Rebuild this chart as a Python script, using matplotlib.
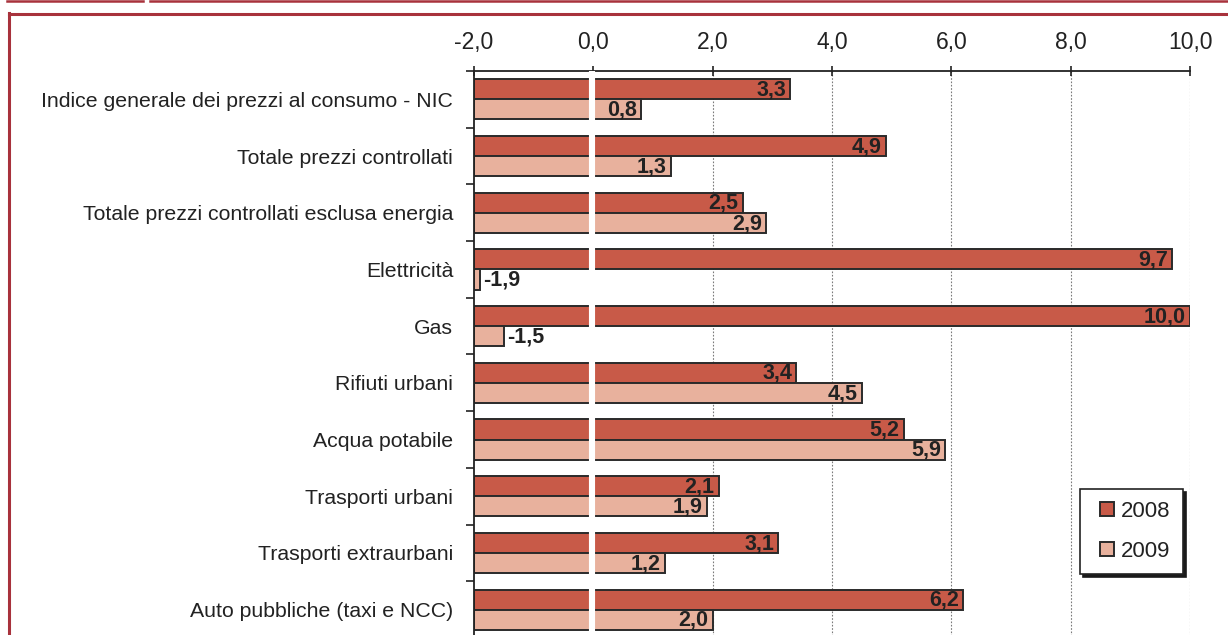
import matplotlib.pyplot as plt
from matplotlib.lines import Line2D
import numpy as np

plt.rcParams['font.family'] = ['Liberation Sans', 'DejaVu Sans']

# dati
categorie = [
    "Indice generale dei prezzi al consumo - NIC",
    "Totale prezzi controllati",
    "Totale prezzi controllati esclusa energia",
    "Elettricità",
    "Gas",
    "Rifiuti urbani",
    "Acqua potabile",
    "Trasporti urbani",
    "Trasporti extraurbani",
    "Auto pubbliche (taxi e NCC)",
]
val_2008 = [3.3, 4.9, 2.5, 9.7, 10.0, 3.4, 5.2, 2.1, 3.1, 6.2]
val_2009 = [0.8, 1.3, 2.9, -1.9, -1.5, 4.5, 5.9, 1.9, 1.2, 2.0]
tick_x = [-2.0, 0.0, 2.0, 4.0, 6.0, 8.0, 10.0]
anni = ['2008', '2009']

col_2008 = '#c85a48'
col_2009 = '#e8b19d'
testo = '#222222'
rosso = '#a8323c'

fig = plt.figure(figsize=(12.28, 6.35), dpi=100)
ax = fig.add_axes([474 / 1228, -3 / 635, (1190 - 474) / 1228, (638 - 71) / 635])

y = np.arange(len(categorie))
h = 0.355
base = -2.0
w08 = np.array(val_2008) - base
w09 = np.array(val_2009) - base
ax.barh(y - h / 2, w08, height=h, left=base, color=col_2008,
        edgecolor='#2a2a2a', linewidth=1.4, zorder=2)
ax.barh(y + h / 2, w09, height=h, left=base, color=col_2009,
        edgecolor='#2a2a2a', linewidth=1.4, zorder=2)

# interruzione bianca sullo zero
ax.axvline(-0.03, ymin=0, ymax=0.995, color='white', linewidth=4.4, zorder=3)

ax.set_xlim(-2, 10)
ax.set_ylim(len(categorie) - 0.5, -0.5)

# etichette valori
def fmt(v):
    return ('%.1f' % v).replace('.', ',')

for serie, off in ((val_2008, -h / 2), (val_2009, h / 2)):
    for i, v in enumerate(serie):
        if v >= 0:
            ax.annotate(fmt(v), (v, i + off), xytext=(-3, -0.5), textcoords='offset points',
                        ha='right', va='center', fontsize=15.5, fontweight='bold',
                        color=testo, zorder=4)
        else:
            ax.annotate(fmt(v), (v, i + off), xytext=(2.5, -0.5), textcoords='offset points',
                        ha='left', va='center', fontsize=15.5, fontweight='bold',
                        color=testo, zorder=4)

# assi
ax.xaxis.tick_top()
ax.set_xticks(tick_x)
ax.set_xticklabels([fmt(t) for t in tick_x], fontsize=16.5, color=testo)
ax.tick_params(axis='x', direction='inout', length=7, width=1.2, pad=9, color='#222222')
ax.set_yticks(y)
ax.set_yticklabels(categorie, fontsize=15.3, color=testo)
ax.set_yticks(np.arange(len(categorie) + 1) - 0.5, minor=True)
ax.tick_params(axis='y', which='major', length=0, pad=15)
ax.tick_params(axis='y', which='minor', direction='out', length=6, width=1.2, color='#222222')

for t in tick_x[2:]:
    ax.axvline(t, color='#7a7a7a', linewidth=0.8, linestyle=(0, (1.5, 1.5)), zorder=1)

for s in ('right', 'bottom'):
    ax.spines[s].set_visible(False)
for s in ('top', 'left'):
    ax.spines[s].set_linewidth(1.3)
    ax.spines[s].set_color('#222222')

# legenda
handles = [Line2D([], [], linestyle='none', marker='s', markersize=9.5,
                  markerfacecolor=c, markeredgecolor='#2a2a2a', markeredgewidth=1.4)
           for c in (col_2008, col_2009)]
leg = ax.legend(handles, anni, loc='upper left',
                bbox_to_anchor=(1080 / 1228, (635 - 489) / 635),
                bbox_transform=fig.transFigure, borderaxespad=0, fontsize=16,
                frameon=True, fancybox=False, shadow={'color': '#1a1a1a', 'alpha': 1},
                edgecolor='#222222', handlelength=1.3, labelspacing=0.85,
                borderpad=0.55, handletextpad=0.0)
leg.get_frame().set_linewidth(1.2)
for t in leg.get_texts():
    t.set_color(testo)

# cornice rossa
fig.add_artist(Line2D([7 / 1228, 143 / 1228], [1 - 0.8 / 635] * 2, color=rosso, linewidth=1.8))
fig.add_artist(Line2D([150 / 1228, 1], [1 - 0.8 / 635] * 2, color=rosso, linewidth=1.8))
fig.add_artist(Line2D([9 / 1228, 1], [1 - 13.5 / 635] * 2, color=rosso, linewidth=2.2))
fig.add_artist(Line2D([9 / 1228, 9 / 1228], [0, 1 - 12.5 / 635], color=rosso, linewidth=2.2))

fig.savefig('out.png', dpi=100)
